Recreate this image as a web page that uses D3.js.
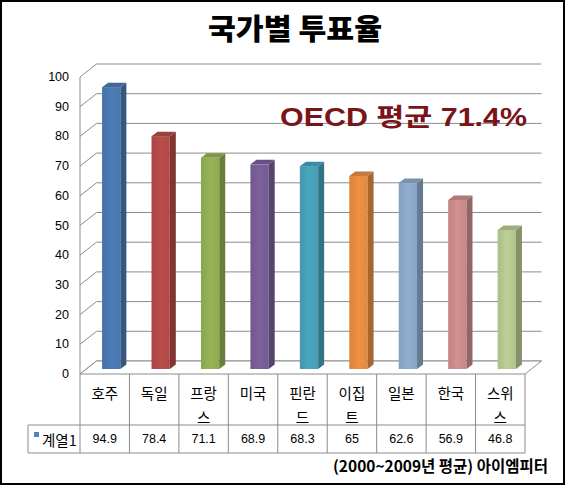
<!DOCTYPE html>
<html>
<head>
<meta charset="utf-8">
<script src="https://cdn.jsdelivr.net/npm/d3@7"></script>
<style>
  body { margin: 0; background: #fff; }
  svg { display: block; }
</style>
</head>
<body>
<div id="container"></div>
<script>
// chart data
const categories = ["호주", "독일", "프랑스", "미국", "핀란드", "이집트", "일본", "한국", "스위스"];
const values = [94.9, 78.4, 71.1, 68.9, 68.3, 65, 62.6, 56.9, 46.8];
const yTicks = [0, 10, 20, 30, 40, 50, 60, 70, 80, 90, 100];
const seriesName = "계열1";
const titleText = "국가별 투표율";
const noteText = "OECD 평균 71.4%";
const sourceText = "(2000~2009년 평균) 아이엠피터";

// Excel 2007 "vary colors by point" palette
const palette = ["#4F81BD", "#C0504D", "#9BBB59", "#8064A2", "#4BACC6", "#F79646", "#95B3D7", "#D99694", "#C3D69B"];

const W = 567, H = 485;
const kr = "'Noto Sans CJK KR', 'Noto Sans', sans-serif";
const lat = "'Liberation Sans', Arial, 'Noto Sans CJK KR', sans-serif";
const gridColor = "#8c8c8c";

// 3d depth of the walls and of the bars
const depth = { dx: 16.5, dy: -13 };
const barDepth = { dx: 6, dy: -4.5 };
const barShift = { dx: 6.5, dy: -5 }; // bar front plane sits inside the floor

const svg = d3.select("#container").append("svg")
  .attr("width", W).attr("height", H);

const defs = svg.append("defs");

const x = d3.scaleBand().domain(categories).range([80, 525]);
const y = d3.scaleLinear().domain([0, 100]).range([374, 77]);

// border
svg.append("rect")
  .attr("x", 1).attr("y", 1).attr("width", W - 4).attr("height", H - 2)
  .attr("fill", "#fff").attr("stroke", "#000").attr("stroke-width", 2);

// title
svg.append("text")
  .attr("x", 295).attr("y", 27)
  .attr("text-anchor", "middle").attr("dominant-baseline", "central")
  .attr("textLength", 174).attr("lengthAdjust", "spacingAndGlyphs")
  .style("font-family", kr).style("font-weight", 900).style("font-size", "29px")
  .text(titleText);

// walls: left wall diagonals + back wall gridlines
const grid = svg.append("g").attr("stroke", gridColor).attr("fill", "none").attr("stroke-width", 1);
yTicks.forEach(t => {
  const yy = y(t);
  grid.append("path")
    .attr("d", `M80,${yy}L${80 + depth.dx},${yy + depth.dy}L${525 + depth.dx},${yy + depth.dy}`);
});
grid.append("line")
  .attr("x1", 80).attr("x2", 80).attr("y1", y(0)).attr("y2", y(100));

// floor
svg.append("path")
  .attr("d", `M80,${y(0)}L525,${y(0)}L${525 + depth.dx},${y(0) + depth.dy}L${80 + depth.dx},${y(0) + depth.dy}Z`)
  .attr("fill", "#fff").attr("stroke", gridColor);

// y tick labels
svg.append("g").selectAll("text").data(yTicks).join("text")
  .attr("x", 69).attr("y", d => y(d))
  .attr("text-anchor", "end").attr("dominant-baseline", "central")
  .style("font-family", lat).style("font-size", "12.5px")
  .text(d => d);

// note text
svg.append("text")
  .attr("x", 280).attr("y", 117)
  .attr("dominant-baseline", "central")
  .attr("textLength", 247).attr("lengthAdjust", "spacingAndGlyphs")
  .style("font-family", lat).style("font-weight", "bold").style("font-size", "25px")
  .attr("fill", "#7a1418")
  .text(noteText);

// bars
const barW = x.bandwidth() * 0.37;
const bars = svg.append("g");
categories.forEach((c, i) => {
  const base = d3.color(palette[i]);
  const gid = "g" + i;
  const g = defs.append("linearGradient").attr("id", gid).attr("x1", 0).attr("x2", 1);
  g.append("stop").attr("offset", 0).attr("stop-color", base.darker(0.35));
  g.append("stop").attr("offset", 0.5).attr("stop-color", base.darker(0.1));
  g.append("stop").attr("offset", 1).attr("stop-color", base.darker(0.25));

  const bx = x(c) + (x.bandwidth() - barW) / 2 + barShift.dx;
  const b0 = y(0) + barShift.dy;
  const bt = y(values[i]) + barShift.dy;
  const bd = barDepth;

  bars.append("rect")
    .attr("x", bx).attr("y", bt).attr("width", barW).attr("height", b0 - bt)
    .attr("fill", `url(#${gid})`);
  bars.append("path")
    .attr("d", `M${bx + barW},${bt}L${bx + barW + bd.dx},${bt + bd.dy}L${bx + barW + bd.dx},${b0 + bd.dy}L${bx + barW},${b0}Z`)
    .attr("fill", base.darker(1.1));
  bars.append("path")
    .attr("d", `M${bx},${bt}L${bx + bd.dx},${bt + bd.dy}L${bx + barW + bd.dx},${bt + bd.dy}L${bx + barW},${bt}Z`)
    .attr("fill", base.darker(0.6));
});

// data table
const tbl = svg.append("g").attr("stroke", gridColor).attr("stroke-width", 1);
const rowTop = y(0), rowMid = 425, rowBot = 453;
tbl.append("line").attr("x1", 28).attr("x2", 525).attr("y1", rowMid).attr("y2", rowMid);
tbl.append("line").attr("x1", 28).attr("x2", 525).attr("y1", rowBot).attr("y2", rowBot);
tbl.append("line").attr("x1", 28).attr("x2", 28).attr("y1", rowMid).attr("y2", rowBot);
categories.forEach(c => {
  tbl.append("line").attr("x1", x(c)).attr("x2", x(c)).attr("y1", rowTop).attr("y2", rowBot);
});
tbl.append("line").attr("x1", 525).attr("x2", 525).attr("y1", rowTop).attr("y2", rowBot);

// category labels (wrap after two syllables)
categories.forEach(c => {
  const lines = c.length > 2 ? [c.slice(0, 2), c.slice(2)] : [c];
  lines.forEach((ln, j) => {
    svg.append("text")
      .attr("x", x(c) + x.bandwidth() / 2).attr("y", 392.5 + j * 23.5)
      .attr("text-anchor", "middle").attr("dominant-baseline", "central")
      .style("font-family", kr).style("font-size", "14.5px")
      .text(ln);
  });
});

// values row
svg.append("g").selectAll("text").data(values).join("text")
  .attr("x", (d, i) => x(categories[i]) + x.bandwidth() / 2).attr("y", 439)
  .attr("text-anchor", "middle").attr("dominant-baseline", "central")
  .style("font-family", lat).style("font-size", "12.5px")
  .text(d => d);

// legend key
svg.append("rect").attr("x", 34).attr("y", 432).attr("width", 5).attr("height", 5)
  .attr("fill", palette[0]);
svg.append("text")
  .attr("x", 42).attr("y", 439).attr("dominant-baseline", "central")
  .style("font-family", kr).style("font-size", "14.5px")
  .text(seriesName);

// source
svg.append("text")
  .attr("x", 548).attr("y", 465)
  .attr("text-anchor", "end").attr("dominant-baseline", "central")
  .attr("textLength", 215).attr("lengthAdjust", "spacingAndGlyphs")
  .style("font-family", kr).style("font-weight", "bold").style("font-size", "15.5px")
  .text(sourceText);
</script>
</body>
</html>
